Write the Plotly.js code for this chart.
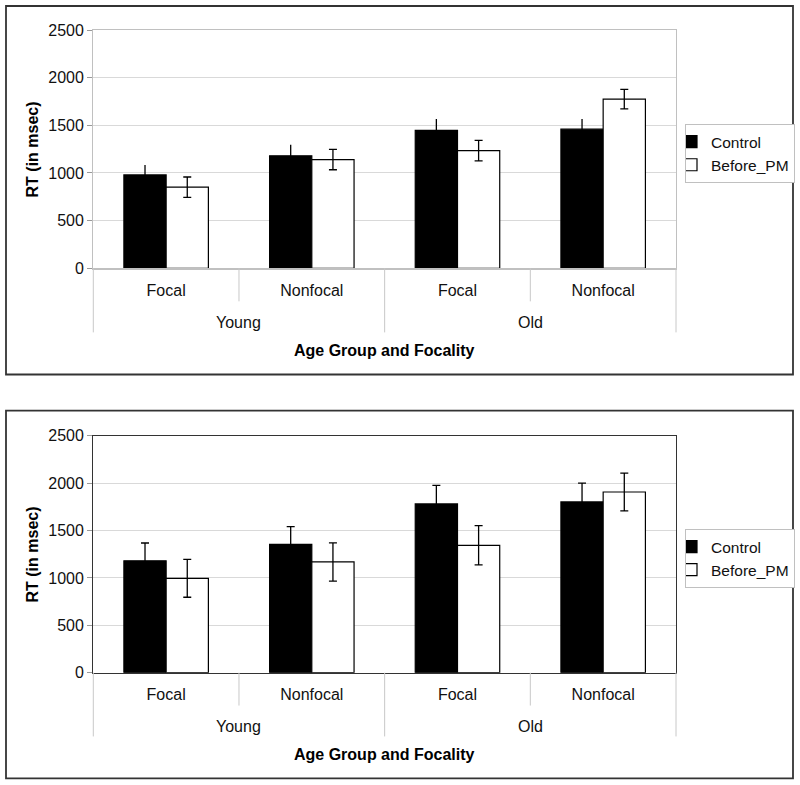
<!DOCTYPE html>
<html>
<head>
<meta charset="utf-8">
<script src="https://cdn.plot.ly/plotly-3.0.1.min.js"></script>
<style>
  html, body { margin: 0; padding: 0; background: #fff; }
  #chart { width: 800px; height: 785px; }
</style>
</head>
<body>
<div id="chart"></div>
<script>
// ---- data ----
const ageGroups = ["Young", "Young", "Old", "Old"];
const focality = ["Focal", "Nonfocal", "Focal", "Nonfocal"];
const seriesNames = ["Control", "Before_PM"];

// Top panel
const topControl = [980, 1180, 1446, 1460];
const topControlErr = [105, 115, 119, 105];
const topBefore = [851, 1141, 1235, 1775];
const topBeforeErr = [107, 107, 107, 103];

// Bottom panel
const botControl = [1181, 1354, 1780, 1801];
const botControlErr = [187, 186, 197, 199];
const botBefore = [996, 1168, 1344, 1906];
const botBeforeErr = [200, 202, 207, 199];

const yTickVals = [0, 500, 1000, 1500, 2000, 2500];
const xTitle = "Age Group and Focality";
const yTitle = "RT (in msec)";

// unique category keys built from the two label levels
const catKeys = ageGroups.map((g, i) => g + " " + focality[i]);

// ---- styling ----
const FONT = "Liberation Sans, Arial, Helvetica, sans-serif";
const W = 800, H = 785;
const xDom = [93.3 / W, 676 / W];
const topDom = [1 - 268.3 / H, 1 - 30 / H];
const botDom = [1 - 672.7 / H, 1 - 435.7 / H];
const plotW = (xDom[1] - xDom[0]) * W;
const plotH = 238;

function barTrace(name, y, err, xa, ya, legend, filled, capWidth) {
  return {
    type: "bar",
    name: name,
    x: catKeys,
    y: y,
    xaxis: xa, yaxis: ya,
    legend: legend,
    marker: {
      color: filled ? "#000000" : "#ffffff",
      line: { color: "#000000", width: 1.2 }
    },
    error_y: {
      type: "data", array: err, visible: true,
      color: "#000000", thickness: 1.3, width: capWidth
    },
    hoverinfo: "skip"
  };
}

const data = [
  barTrace(seriesNames[0], topControl, topControlErr, "x", "y", "legend", true, 0),
  barTrace(seriesNames[1], topBefore, topBeforeErr, "x", "y", "legend", false, 4),
  barTrace(seriesNames[0], botControl, botControlErr, "x2", "y2", "legend2", true, 4),
  barTrace(seriesNames[1], botBefore, botBeforeErr, "x2", "y2", "legend2", false, 4)
];

function xAxis(lineColor, anchor) {
  return {
    type: "category",
    categoryorder: "array", categoryarray: catKeys,
    tickvals: catKeys, ticktext: focality,
    domain: xDom,
    anchor: anchor,
    showline: true, mirror: true, linecolor: lineColor, linewidth: 1.2,
    showgrid: false,
    ticks: "outside", ticklen: 7, tickcolor: "rgba(0,0,0,0)",
    tickfont: { family: FONT, size: 16, color: "#111" },
    fixedrange: true
  };
}
function yAxis(dom, lineColor, anchor) {
  return {
    domain: dom,
    anchor: anchor,
    range: [0, 2500],
    tickvals: yTickVals,
    ticks: "outside", ticklen: 5, tickcolor: "#999", tickwidth: 1,
    showline: true, mirror: true, linecolor: lineColor, linewidth: 1.2,
    showgrid: true, gridcolor: "#d9d9d9", gridwidth: 1,
    zeroline: false,
    tickfont: { family: FONT, size: 16, color: "#111" },
    fixedrange: true
  };
}

// divider shapes under the category axis, computed from the category arrays
function dividers(xref, yref) {
  const n = focality.length;
  const shapes = [];
  const longLen = -64 / plotH, shortLen = -33 / plotH;
  for (let i = 0; i <= n; i++) {
    const outer = (i === 0 || i === n || ageGroups[i] !== ageGroups[i - 1]);
    shapes.push({
      type: "line", xref: xref, yref: yref,
      x0: i / n, x1: i / n, y0: 0, y1: outer ? longLen : shortLen,
      line: { color: "#c8c8c8", width: 1 }
    });
  }
  return shapes;
}

// group labels + axis titles for a panel
function panelAnnotations(xref, yref) {
  const n = focality.length;
  const anns = [];
  const groups = [];
  ageGroups.forEach((g, i) => {
    const last = groups[groups.length - 1];
    if (last && last.name === g) last.end = i; else groups.push({ name: g, start: i, end: i });
  });
  groups.forEach(gr => {
    anns.push({
      xref: xref, yref: yref, x: (gr.start + gr.end + 1) / (2 * n), y: -54 / plotH,
      text: gr.name, showarrow: false, xanchor: "center", yanchor: "middle",
      font: { family: FONT, size: 16, color: "#111" }
    });
  });
  anns.push({
    xref: xref, yref: yref, x: 0.5, y: -82 / plotH,
    text: xTitle, showarrow: false, xanchor: "center", yanchor: "middle",
    font: { family: FONT, size: 16, color: "#000", weight: "bold" }
  });
  anns.push({
    xref: xref, yref: yref, x: -61 / plotW, y: 0.5, textangle: -90,
    text: yTitle, showarrow: false, xanchor: "center", yanchor: "middle",
    font: { family: FONT, size: 16, color: "#000", weight: "bold" }
  });
  return anns;
}

const frames = [
  { type: "rect", xref: "paper", yref: "paper",
    x0: 6 / W, x1: 793 / W, y0: 1 - 374.5 / H, y1: 1 - 6 / H,
    line: { color: "#333", width: 1.8 }, layer: "below" },
  { type: "rect", xref: "paper", yref: "paper",
    x0: 6 / W, x1: 793 / W, y0: 1 - 778.3 / H, y1: 1 - 410.7 / H,
    line: { color: "#333", width: 1.8 }, layer: "below" }
];

const legendBase = {
  xanchor: "left", yanchor: "top",
  bgcolor: "#ffffff", bordercolor: "#c0c0c0", borderwidth: 1,
  font: { family: FONT, size: 15.5, color: "#111" },
  itemwidth: 30, indentation: -15, tracegroupgap: 0
};

const layout = {
  width: W, height: H,
  margin: { l: 0, r: 0, t: 0, b: 0 },
  paper_bgcolor: "#ffffff", plot_bgcolor: "#ffffff",
  barmode: "group", bargap: 0.42, bargroupgap: 0,
  showlegend: true,
  xaxis: xAxis("#c0c0c0", "y"),
  yaxis: yAxis(topDom, "#c0c0c0", "x"),
  xaxis2: xAxis("#333333", "y2"),
  yaxis2: yAxis(botDom, "#333333", "x2"),
  legend: Object.assign({}, legendBase, { x: 685 / W, y: 1 - 124 / H }),
  legend2: Object.assign({}, legendBase, { x: 685 / W, y: 1 - 529 / H }),
  shapes: frames.concat(dividers("x domain", "y domain"), dividers("x2 domain", "y2 domain")),
  annotations: panelAnnotations("x domain", "y domain").concat(panelAnnotations("x2 domain", "y2 domain"))
};

Plotly.newPlot("chart", data, layout, { displayModeBar: false, staticPlot: true });
</script>
</body>
</html>
